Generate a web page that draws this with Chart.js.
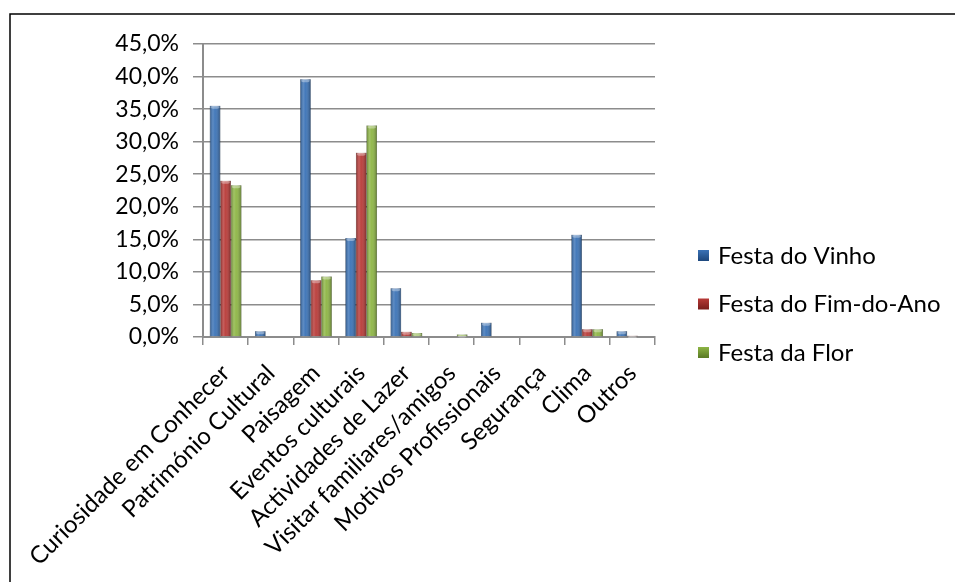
<!DOCTYPE html>
<html>
<head>
<meta charset="utf-8">
<script src="https://cdn.jsdelivr.net/npm/chart.js@4"></script>
<style>
  html, body { margin: 0; padding: 0; background: #fff; }
  #wrap { width: 955px; height: 582px; position: relative; }
</style>
</head>
<body>
<div id="wrap"><canvas id="barChart" width="955" height="582"></canvas></div>
<script>
// motivos da visita
const categories = [
  "Curiosidade em Conhecer", "Património Cultural", "Paisagem", "Eventos culturais",
  "Actividades de Lazer", "Visitar familiares/amigos", "Motivos Profissionais",
  "Segurança", "Clima", "Outros"
];
const festaVinho = [35.5, 0.9, 39.6, 15.2, 7.5, 0.1, 2.2, 0, 15.7, 0.9];
const festaFimAno = [24.0, 0, 8.7, 28.3, 0.8, 0, 0, 0, 1.2, 0.2];
const festaFlor = [23.3, 0, 9.3, 32.5, 0.6, 0.4, 0, 0, 1.2, 0];
const seriesNames = ["Festa do Vinho", "Festa do Fim-do-Ano", "Festa da Flor"];
const yTicks = [0, 5, 10, 15, 20, 25, 30, 35, 40, 45];

const FONT = "Lato";
const colors = ["#3a72b6", "#b83a37", "#8db544"];
const darks = ["#1f4a80", "#7e1f1d", "#5d7e26"];

function pct(v) {
  return v.toFixed(1).replace(".", ",") + "%";
}

// frame + legend + bar shading
const extras = {
  id: "extras",
  beforeDraw(chart) {
    const ctx = chart.ctx;
    ctx.save();
    ctx.fillStyle = "#fff";
    ctx.fillRect(0, 0, chart.width, chart.height);
    ctx.strokeStyle = "#000";
    ctx.lineWidth = 1.5;
    ctx.beginPath();
    ctx.moveTo(10, chart.height);
    ctx.lineTo(10, 14);
    ctx.lineTo(chart.width, 14);
    ctx.stroke();
    ctx.restore();
  },
  afterDatasetsDraw(chart) {
    const ctx = chart.ctx;
    ctx.save();
    chart.data.datasets.forEach((ds, di) => {
      chart.getDatasetMeta(di).data.forEach((bar) => {
        const w = bar.width, x0 = bar.x - w / 2;
        const h = bar.base - bar.y;
        if (h < 0.5) return;
        const g = ctx.createLinearGradient(x0, 0, x0 + w, 0);
        g.addColorStop(0, "rgba(0,0,0,0.30)");
        g.addColorStop(0.3, "rgba(255,255,255,0.18)");
        g.addColorStop(0.5, "rgba(255,255,255,0.05)");
        g.addColorStop(1, "rgba(0,0,0,0.35)");
        ctx.fillStyle = g;
        ctx.fillRect(x0, bar.y, w, h);
        // top cap
        ctx.fillStyle = "rgba(255,255,255,0.35)";
        ctx.beginPath();
        ctx.ellipse(bar.x, bar.y + 1.5, w / 2 - 1, 1.5, 0, 0, Math.PI * 2);
        ctx.fill();
      });
    });
    ctx.restore();
  },
  afterDraw(chart) {
    const ctx = chart.ctx;
    ctx.save();
    ctx.font = "24px " + FONT;
    ctx.textBaseline = "middle";
    chart.data.datasets.forEach((ds, i) => {
      const y = 255 + i * 48.5;
      const g = ctx.createLinearGradient(698, y - 5, 698, y + 5);
      g.addColorStop(0, colors[i]);
      g.addColorStop(1, darks[i]);
      ctx.fillStyle = g;
      ctx.fillRect(698, y - 5, 11, 11);
      ctx.fillStyle = "#000";
      ctx.fillText(ds.label, 718, y + 1);
    });
    ctx.restore();
  }
};

new Chart(document.getElementById("barChart"), {
  type: "bar",
  data: {
    labels: categories,
    datasets: [
      { label: seriesNames[0], data: festaVinho, backgroundColor: colors[0], borderColor: darks[0], borderWidth: 0.5 },
      { label: seriesNames[1], data: festaFimAno, backgroundColor: colors[1], borderColor: darks[1], borderWidth: 0.5 },
      { label: seriesNames[2], data: festaFlor, backgroundColor: colors[2], borderColor: darks[2], borderWidth: 0.5 }
    ]
  },
  options: {
    responsive: false,
    animation: false,
    devicePixelRatio: 1,
    layout: { padding: { left: 0, top: 44, right: 300, bottom: 0 } },
    datasets: { bar: { categoryPercentage: 0.7, barPercentage: 1 } },
    plugins: { legend: { display: false }, tooltip: { enabled: false } },
    scales: {
      x: {
        afterFit(scale) { scale.height = 245; },
        grid: {
          offset: true, drawOnChartArea: false, color: "#8c8c8c",
          lineWidth: 1.5, tickLength: 8
        },
        border: { color: "#8c8c8c", width: 2 },
        ticks: {
          color: "#000", font: { family: FONT, size: 24 },
          minRotation: 45, maxRotation: 45, autoSkip: false, padding: 14
        }
      },
      y: {
        min: 0, max: 45,
        afterFit(scale) { scale.width = 203; },
        afterBuildTicks(scale) { scale.ticks = yTicks.map((v) => ({ value: v })); },
        grid: { color: "#8c8c8c", lineWidth: 1.5, tickLength: 10 },
        border: { color: "#8c8c8c", width: 2 },
        ticks: {
          color: "#000", font: { family: FONT, size: 23 }, padding: 14,
          callback: (v) => pct(v)
        }
      }
    }
  },
  plugins: [extras]
});
</script>
</body>
</html>
